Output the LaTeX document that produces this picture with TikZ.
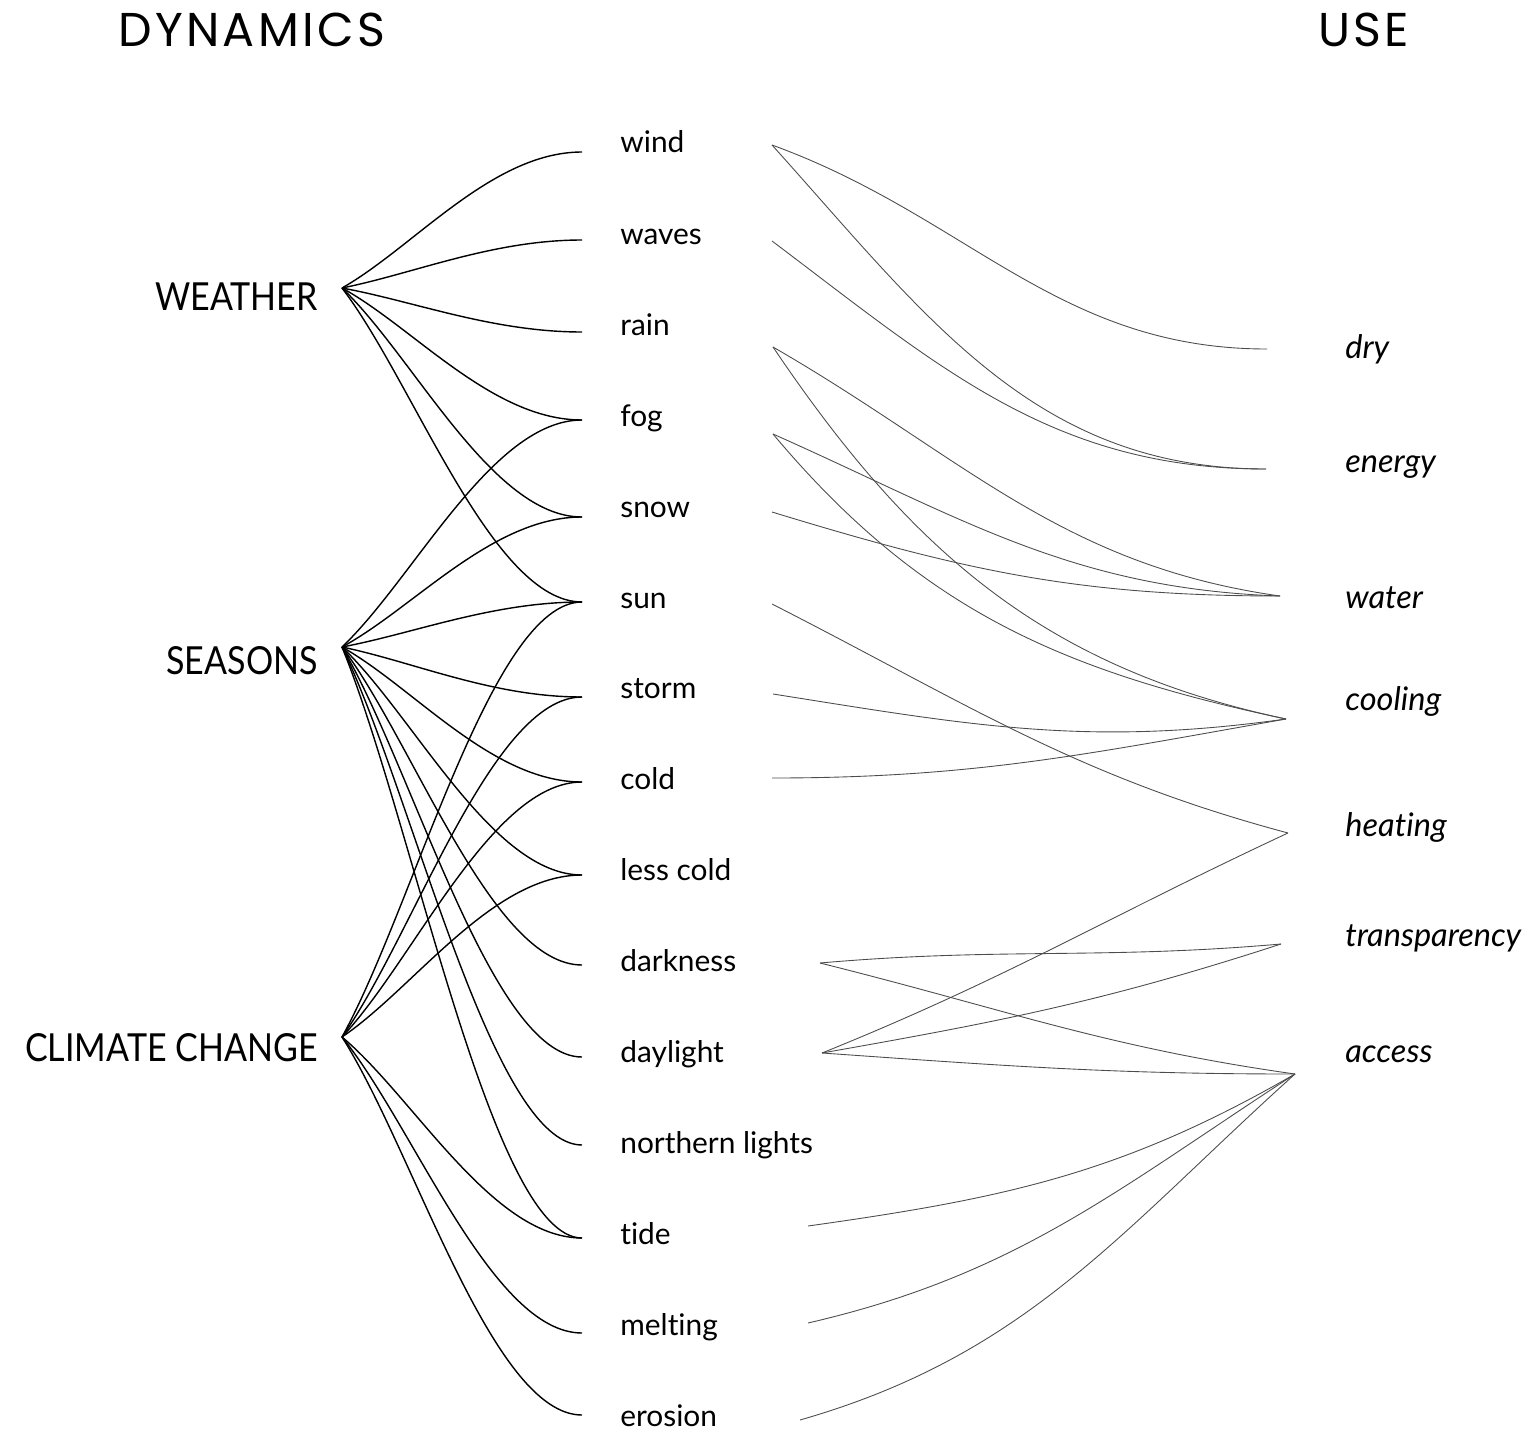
\documentclass[tikz,border=0pt]{standalone}
\usepackage{fontspec}
\setmainfont[Ligatures=NoCommon]{Lato}
\newfontfamily\headfont[LetterSpace=7]{Poppins}
\newfontfamily\groupfont[FakeStretch=0.88]{Lato}
\usetikzlibrary{positioning,calc}

\tikzset{
  head/.style={font=\headfont\fontsize{27}{32}\selectfont, anchor=base west, inner sep=0pt},
  group/.style={font=\groupfont\fontsize{22}{26}\selectfont, anchor=base east, inner sep=0pt},
  item/.style={font=\fontsize{17}{20}\selectfont, anchor=base west, inner sep=0pt},
  usage/.style={font=\itshape\fontsize{18.5}{22}\selectfont, anchor=base west, inner sep=0pt},
  leftlink/.style={line width=0.8pt,
    to path={.. controls ($(\tikztostart)!0.3!(\tikztotarget)$) and ($(\tikztotarget)+(-90,0)$) .. (\tikztotarget)}},
  rightlink/.style={line width=0.5pt, draw=black!70},
}

\begin{document}
\begin{tikzpicture}[x=0.02cm, y=0.02cm]
  \useasboundingbox (0,0) rectangle (1532,-1433);

  % headings
  \node[head] (dynamics) at (118,-47) {DYNAMICS};
  \node[head] (use) at (1318,-47) {USE};

  % groups
  \node[group] (weather) at (318,-310) {WEATHER};
  \node[group] (seasons) at (318,-674) {SEASONS};
  \node[group] (climate) at (318,-1061) {CLIMATE CHANGE};
  \coordinate (weather-p) at (342,-288);
  \coordinate (seasons-p) at (342,-647);
  \coordinate (climate-p) at (342,-1037);

  % phenomena, with their left and right ports
  \foreach \name/\txt/\ty/\ly/\rx/\ry in {
      wind/wind/153/152/772/145,
      waves/waves/244/240/772/241,
      rain/rain/335/332/773/347,
      fog/fog/426/420/773/434,
      snow/snow/517/517/772/512,
      sun/sun/608/602/772/604,
      storm/storm/698/697/773/694,
      cold/cold/789/782/772/778,
      lesscold/less cold/880/875/772/875,
      darkness/darkness/971/965/820/963,
      daylight/daylight/1062/1057/822/1053,
      northern/northern lights/1153/1145/772/1145,
      tide/tide/1244/1238/808/1226,
      melting/melting/1335/1333/808/1323,
      erosion/erosion/1426/1415/800/1420} {
    \node[item] (\name) at (620,-\ty) {\txt};
    \coordinate (\name-l) at (582,-\ly);
    \coordinate (\name-r) at (\rx,-\ry);
  }

  % uses
  \node[usage] (dry) at (1345,-358) {dry};
  \node[usage] (energy) at (1345,-472) {energy};
  \node[usage] (water) at (1345,-608) {water};
  \node[usage] (cooling) at (1345,-710) {cooling};
  \node[usage] (heating) at (1345,-836) {heating};
  \node[usage] (transparency) at (1345,-946) {transparency};
  \node[usage] (access) at (1345,-1062) {access};
  \coordinate (dry-p) at (1267,-349);
  \coordinate (energy-p) at (1266,-469);
  \coordinate (water-p) at (1280,-596);
  \coordinate (cooling-p) at (1286,-719);
  \coordinate (heating-p) at (1288,-833);
  \coordinate (transparency-p) at (1281,-944);
  \coordinate (access-p) at (1295,-1074);

  % dynamics -> phenomena
  \foreach \x in {wind,waves,rain,fog,snow,sun}
    \draw[leftlink] (weather-p) to (\x-l);
  \foreach \x in {fog,snow,sun,storm,cold,lesscold,darkness,daylight,northern,tide}
    \draw[leftlink] (seasons-p) to (\x-l);
  \foreach \x in {sun,storm,cold,lesscold,tide,melting,erosion}
    \draw[leftlink] (climate-p) to (\x-l);

  % phenomena -> uses
  \draw[rightlink] (wind-r) to[out=-20, in=180] (dry-p);
  \draw[rightlink] (wind-r) to[out=-48, in=180] (energy-p);
  \draw[rightlink] (waves-r) to[out=-37, in=180] (energy-p);
  \draw[rightlink] (rain-r) to[out=-30, in=172] (water-p);
  \draw[rightlink] (rain-r) to[out=-56, in=168] (cooling-p);
  \draw[rightlink] (fog-r) to[out=-24, in=178] (water-p);
  \draw[rightlink] (fog-r) to[out=-50, in=168] (cooling-p);
  \draw[rightlink] (snow-r) to[out=-17, in=180] (water-p);
  \draw[rightlink] (sun-r) to[out=-27, in=165] (heating-p);
  \draw[rightlink] (storm-r) to[out=-9, in=188] (cooling-p);
  \draw[rightlink] (cold-r) to[out=0, in=190] (cooling-p);
  \draw[rightlink] (darkness-r) to[out=5, in=185] (transparency-p);
  \draw[rightlink] (darkness-r) to[out=-14, in=172] (access-p);
  \draw[rightlink] (daylight-r) to[out=22, in=205] (heating-p);
  \draw[rightlink] (daylight-r) to[out=10, in=198] (transparency-p);
  \draw[rightlink] (daylight-r) to[out=-4, in=180] (access-p);
  \draw[rightlink] (tide-r) to[out=8, in=210] (access-p);
  \draw[rightlink] (melting-r) to[out=13, in=213] (access-p);
  \draw[rightlink] (erosion-r) to[out=16, in=222] (access-p);
\end{tikzpicture}
\end{document}
